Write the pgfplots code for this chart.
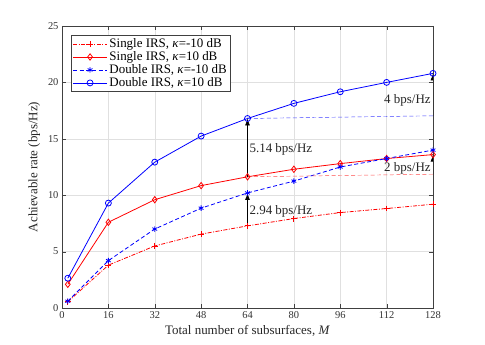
\documentclass[border=0pt]{standalone}
\usepackage{fontspec}
\setmainfont{Liberation Serif}
\usepackage{pgfplots}
\pgfplotsset{compat=1.18}
\usetikzlibrary{arrows.meta}

\begin{document}
\begin{tikzpicture}[font=\fontsize{13}{15}\selectfont]
\begin{axis}[
  name=ax,
  scale only axis,
  width=371bp, height=282bp,
  xmin=0, xmax=128, ymin=0, ymax=25,
  xtick={0,16,...,128}, ytick={0,5,...,25},
  grid=major,
  major grid style={draw=black!12, line width=0.4pt},
  axis line style={draw=black!75, line width=0.5pt},
  tick style={draw=black!75},
  tick label style={font=\fontsize{10.5}{12}\selectfont, text=black!80},
  /pgf/number format/assume math mode=true,
  xlabel={Total number of subsurfaces,\ \textit{M}},
  ylabel={Achievable rate (bps/Hz)},
  label style={text=black!85, font=\fontsize{13}{15}\selectfont},
  xlabel style={yshift=0pt},
  ylabel style={yshift=1pt},
  legend style={at={(0.024,0.968)}, anchor=north west, draw=black!75,
    line width=0.5pt, font=\fontsize{13}{14}\selectfont,
    inner sep=1.5pt, row sep=-1.5pt},
  legend cell align=left,
  legend image code/.code={\draw[mark repeat=2,mark phase=2]
    plot coordinates {(0cm,0cm) (0.6cm,0cm) (1.2cm,0cm)};},
]
% Single IRS, kappa=-10 dB
\addplot[red, line width=0.8pt, dash pattern=on 4pt off 1.5pt on 1pt off 1.5pt,
  mark=+, mark size=3pt, mark options={solid}]
  coordinates {(2,0.55) (16,3.8) (32,5.5) (48,6.55) (64,7.28) (80,7.93) (96,8.46) (112,8.82) (128,9.2)};
\addlegendentry{Single IRS, \textit{κ}=-10 dB}
% Single IRS, kappa=10 dB
\addplot[red, line width=0.8pt, mark=diamond, mark size=3.2pt, mark options={solid}]
  coordinates {(2,2.1) (16,7.6) (32,9.6) (48,10.85) (64,11.63) (80,12.3) (96,12.8) (112,13.25) (128,13.6)};
\addlegendentry{Single IRS, \textit{κ}=10 dB}
% Double IRS, kappa=-10 dB
\addplot[blue, line width=0.8pt, dash pattern=on 4pt off 2.5pt,
  mark=asterisk, mark size=2.8pt, mark options={solid}]
  coordinates {(2,0.6) (16,4.2) (32,7.0) (48,8.85) (64,10.2) (80,11.25) (96,12.5) (112,13.25) (128,14.0)};
\addlegendentry{Double IRS, \textit{κ}=-10 dB}
% Double IRS, kappa=10 dB
\addplot[blue, line width=0.8pt, mark=o, mark size=3pt]
  coordinates {(2,2.64) (16,9.3) (32,12.93) (48,15.24) (64,16.8) (80,18.14) (96,19.17) (112,20.0) (128,20.8)};
\addlegendentry{Double IRS, \textit{κ}=10 dB}
% reference lines
\addplot[blue!75, line width=0.45pt, dash pattern=on 4pt off 2.5pt, forget plot]
  coordinates {(64,16.8) (128,17.04)};
\addplot[red!70, line width=0.45pt, dash pattern=on 4pt off 2.5pt, forget plot]
  coordinates {(64,11.63) (128,11.86)};
% annotations
\draw[-{Latex[length=7pt,width=5pt]}, line width=0.7pt] (axis cs:64,7.28) -- (axis cs:64,10.2);
\draw[-{Latex[length=7pt,width=5pt]}, line width=0.7pt] (axis cs:64,11.63) -- (axis cs:64,16.8);
\draw[-{Latex[length=7pt,width=5pt]}, line width=0.7pt] (axis cs:128,17.04) -- (axis cs:128,20.8);
\draw[-{Latex[length=7pt,width=5pt]}, line width=0.7pt] (axis cs:128,11.86) -- (axis cs:128,13.6);
\node[anchor=west, inner sep=1pt, text=black!85] at (axis cs:64.3,8.6) {2.94 bps/Hz};
\node[anchor=west, inner sep=1pt, text=black!85] at (axis cs:64.3,14.1) {5.14 bps/Hz};
\node[anchor=east, inner sep=1pt, text=black!85] at (axis cs:127.6,18.4) {4 bps/Hz};
\node[anchor=east, inner sep=1pt, text=black!85] at (axis cs:127.6,12.37) {2 bps/Hz};
\end{axis}
\pgfresetboundingbox
\path[use as bounding box] ([shift={(-62bp,-37bp)}]ax.south west) rectangle ++(485bp,345bp);
\end{tikzpicture}
\end{document}
